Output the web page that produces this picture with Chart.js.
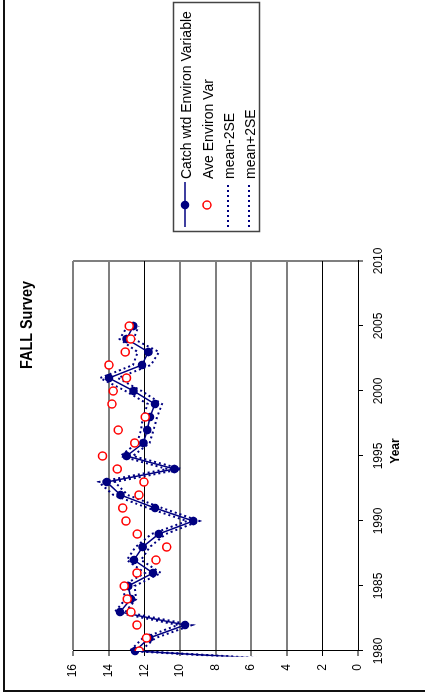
<!DOCTYPE html>
<html>
<head>
<meta charset="utf-8">
<script src="https://cdn.jsdelivr.net/npm/chart.js@4/dist/chart.umd.min.js"></script>
<style>
  html, body { margin: 0; padding: 0; background: #fff; overflow: hidden; }
  /* the chart is laid out landscape and turned a quarter turn counter-clockwise */
  #wrap {
    position: absolute; left: 0; top: 0;
    width: 698px; height: 425px;
    transform-origin: 0 0;
    transform: translateY(698px) rotate(-90deg);
    background: #fff;
  }
  canvas { display: block; }
</style>
</head>
<body>
<div id="wrap"><canvas id="c" width="698" height="425"></canvas></div>
<script>
// ---- data ----
const years = [1979, 1980, 1981, 1982, 1983, 1984, 1985, 1986, 1987, 1988, 1989,
               1990, 1991, 1992, 1993, 1994, 1995, 1996, 1997, 1998, 1999,
               2000, 2001, 2002, 2003, 2004, 2005];

const catchWtd = [0, 12.52, 11.72, 9.71, 13.36, 12.75, 12.90, 11.51, 12.58, 12.09, 11.19,
                  9.25, 11.40, 13.33, 14.11, 10.31, 12.99, 12.05, 11.83, 11.68, 11.40,
                  12.60, 13.98, 12.13, 11.77, 12.99, 12.62];

const aveEnviron = [null, 12.28, 11.87, 12.41, 12.75, 12.95, 13.12, 12.41, 11.34, 10.74, 12.39,
                    13.03, 13.21, 12.30, 12.02, 13.51, 14.34, 12.54, 13.46, 11.94, 13.81,
                    13.74, 12.99, 13.98, 13.06, 12.76, 12.84];

const meanMinus2SE = [0, 12.22, 11.37, 9.31, 13.06, 12.45, 12.55, 11.06, 12.18, 11.69, 10.79,
                      8.90, 11.00, 12.93, 13.66, 9.91, 12.64, 11.70, 11.48, 11.28, 11.00,
                      12.15, 13.48, 11.63, 11.17, 12.59, 12.32];

const meanPlus2SE = [0, 12.82, 12.07, 10.11, 13.66, 13.05, 13.25, 11.96, 12.98, 12.49, 11.59,
                     9.60, 11.80, 13.73, 14.56, 10.71, 13.34, 12.40, 12.18, 12.08, 11.80,
                     13.05, 14.48, 12.63, 12.37, 13.39, 12.92];

const yearRange = [1980, 2010];
const yearStep = 5;
const valueRange = [0, 16];
const valueStep = 2;

const chartTitle = 'FALL Survey';
const yearTitle = 'Year';
const seriesNames = ['Catch wtd Environ Variable', 'Ave Environ Var', 'mean-2SE', 'mean+2SE'];

// ---- helpers ----
const toPoints = (vals) => years
  .map((yr, i) => ({ x: yr, y: vals[i] }))
  .filter(p => p.y !== null);

const NAVY = '#000080';
const RED = '#ff0000';
const FONT = '"Liberation Sans", Arial, sans-serif';
const lineClip = { left: 5.5, top: 5, right: 5, bottom: 5 };

Chart.defaults.font.family = FONT;
Chart.defaults.font.size = 12;
Chart.defaults.color = '#000';

// frame, titles and the boxed legend
const decor = {
  id: 'decor',
  beforeDraw(chart) {
    const ctx = chart.ctx;
    ctx.save();
    ctx.fillStyle = '#fff';
    ctx.fillRect(0, 0, chart.width, chart.height);
    ctx.fillStyle = '#111';
    ctx.fillRect(6, 3, chart.width, 2);
    ctx.fillRect(6, 3, 2, chart.height);
    ctx.restore();
  },
  afterDraw(chart) {
    const ctx = chart.ctx;
    ctx.save();
    ctx.fillStyle = '#000';
    ctx.textAlign = 'center';
    ctx.textBaseline = 'alphabetic';

    // chart title, set slightly condensed
    ctx.save();
    ctx.translate(373, 32);
    ctx.scale(0.9, 1);
    ctx.font = 'bold 16px ' + FONT;
    ctx.fillText(chartTitle, 0, 0);
    ctx.restore();

    ctx.font = 'bold 12px ' + FONT;
    ctx.fillText(yearTitle, 247, 399);

    // legend box
    ctx.strokeStyle = '#444';
    ctx.lineWidth = 1.5;
    ctx.strokeRect(466.5, 173.5, 229, 86);

    const rows = [185, 207, 228, 249];
    ctx.font = '14px ' + FONT;
    ctx.textAlign = 'left';
    rows.forEach((v, i) => {
      ctx.fillStyle = '#000';
      ctx.fillText(seriesNames[i], 519, v + 5.5);
    });

    // catch-weighted symbol: line with dot
    ctx.strokeStyle = NAVY;
    ctx.lineWidth = 1.5;
    ctx.setLineDash([]);
    ctx.beginPath();
    ctx.moveTo(471, rows[0]);
    ctx.lineTo(516, rows[0]);
    ctx.stroke();
    ctx.fillStyle = NAVY;
    ctx.beginPath();
    ctx.arc(493, rows[0], 4.3, 0, Math.PI * 2);
    ctx.fill();

    // average symbol: open red circle
    ctx.strokeStyle = RED;
    ctx.fillStyle = '#fff';
    ctx.lineWidth = 1.5;
    ctx.beginPath();
    ctx.arc(493, rows[1], 4, 0, Math.PI * 2);
    ctx.fill();
    ctx.stroke();

    // confidence band symbols: dotted lines
    ctx.strokeStyle = NAVY;
    ctx.lineWidth = 2;
    ctx.setLineDash([2, 3]);
    [rows[2], rows[3]].forEach(v => {
      ctx.beginPath();
      ctx.moveTo(471, v);
      ctx.lineTo(514, v);
      ctx.stroke();
    });
    ctx.restore();
  }
};

new Chart(document.getElementById('c'), {
  type: 'scatter',
  data: {
    datasets: [
      {
        label: seriesNames[1],
        data: toPoints(aveEnviron),
        showLine: false,
        pointStyle: 'circle',
        pointRadius: 4,
        pointBorderWidth: 1.5,
        pointBorderColor: RED,
        pointBackgroundColor: '#fff',
        order: 0
      },
      {
        label: seriesNames[0],
        data: toPoints(catchWtd),
        showLine: true,
        tension: 0,
        borderColor: NAVY,
        borderWidth: 1.5,
        pointRadius: 4.3,
        pointBorderWidth: 0,
        pointBackgroundColor: NAVY,
        pointBorderColor: NAVY,
        clip: lineClip,
        order: 1
      },
      {
        label: seriesNames[2],
        data: toPoints(meanMinus2SE),
        showLine: true,
        tension: 0,
        borderColor: NAVY,
        borderWidth: 2,
        borderDash: [2, 3],
        pointRadius: 0,
        clip: lineClip,
        order: 2
      },
      {
        label: seriesNames[3],
        data: toPoints(meanPlus2SE),
        showLine: true,
        tension: 0,
        borderColor: NAVY,
        borderWidth: 2,
        borderDash: [2, 3],
        pointRadius: 0,
        clip: lineClip,
        order: 3
      }
    ]
  },
  options: {
    responsive: false,
    animation: false,
    devicePixelRatio: 1,
    layout: { padding: { left: 0, top: 73, right: 261, bottom: 0 } },
    plugins: {
      legend: { display: false },
      title: { display: false },
      tooltip: { enabled: false }
    },
    scales: {
      x: {
        type: 'linear',
        position: 'bottom',
        min: yearRange[0],
        max: yearRange[1],
        ticks: {
          stepSize: yearStep,
          autoSkip: false,
          maxRotation: 0,
          padding: 8,
          color: '#000',
          font: { size: 12 },
          callback: v => String(v)
        },
        grid: {
          color: c => (c.tick && c.tick.value === yearRange[1]) ? '#7f7f7f' : 'rgba(0,0,0,0)',
          lineWidth: c => (c.tick && c.tick.value === yearRange[1]) ? 2 : 1,
          tickColor: '#000',
          tickLength: 5,
          tickWidth: 1
        },
        border: { color: '#000', width: 1 },
        afterFit: s => { s.height = 67; }
      },
      y: {
        type: 'linear',
        position: 'left',
        min: valueRange[0],
        max: valueRange[1],
        ticks: {
          stepSize: valueStep,
          padding: 8,
          color: '#000',
          font: { size: 12 },
          callback: v => String(v)
        },
        grid: {
          color: c => {
            const v = c.tick ? c.tick.value : -1;
            if (v === 0) return 'rgba(0,0,0,0)';
            return (v === 12 || v === 2) ? '#000' : '#7f7f7f';
          },
          lineWidth: c => {
            const v = c.tick ? c.tick.value : -1;
            return (v === 12 || v === 2) ? 1 : 2;
          },
          tickColor: '#000',
          tickLength: 5,
          tickWidth: 1
        },
        border: { color: '#000', width: 1 },
        afterFit: s => { s.width = 47; }
      }
    }
  },
  plugins: [decor]
});
</script>
</body>
</html>
